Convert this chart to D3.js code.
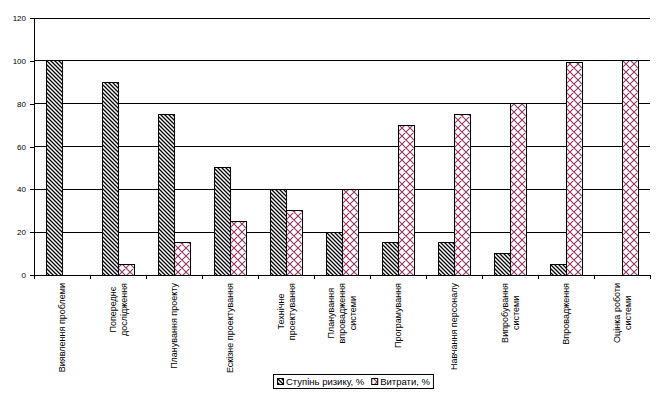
<!DOCTYPE html>
<html>
<head>
<meta charset="utf-8">
<script src="https://cdn.jsdelivr.net/npm/d3@7"></script>
<style>
  body { margin: 0; background: #fff; }
  text { font-family: "Liberation Sans", Arial, sans-serif; }
</style>
</head>
<body>
<div id="chart"></div>
<script>
// stages (multi-line labels split by |)
const stages = [
  "Виявлення проблеми",
  "Попереднє|дослідження",
  "Планування проекту",
  "Ескізне проектування",
  "Технічне|проектування",
  "Планування|впровадження|системи",
  "Програмування",
  "Навчання персоналу",
  "Випробування|системи",
  "Впровадження",
  "Оцінка роботи|системи"
];
const riskValues = [100, 90, 75, 50, 40, 20, 15, 15, 10, 5, 0];
const costValues = [0, 5, 15, 25, 30, 40, 70, 75, 80, 99, 100];
const seriesNames = ["Ступінь ризику, %", "Витрати, %"];
const yTicks = [0, 20, 40, 60, 80, 100, 120];

const width = 661, height = 396;
const margin = {left: 34, right: 11, top: 18, bottom: 121};
const fills = ["url(#stripes)", "url(#cross)"];

let svg = d3.select("#chart")
    .append("svg")
    .attr("width", width)
    .attr("height", height);

// patterns
let defs = svg.append("defs");
let p1 = defs.append("pattern")
    .attr("id", "stripes")
    .attr("patternUnits", "userSpaceOnUse")
    .attr("width", 4).attr("height", 4);
p1.append("rect").attr("width", 4).attr("height", 4).attr("fill", "#fff");
p1.append("path").attr("d", "M-1,-1L5,5M-1,3L1,5M3,-1L5,1")
    .attr("stroke", "#000").attr("stroke-width", 1.3);

let p2 = defs.append("pattern")
    .attr("id", "cross")
    .attr("patternUnits", "userSpaceOnUse")
    .attr("width", 8).attr("height", 8);
p2.append("rect").attr("width", 8).attr("height", 8).attr("fill", "#fff");
p2.append("path").attr("d", "M0,0L8,8M8,0L0,8M-1,7L1,9M7,-1L9,1")
    .attr("stroke", "#993366").attr("stroke-width", 1.1);

let x = d3.scaleBand()
    .domain(stages)
    .range([margin.left, width - margin.right]);

let xInner = d3.scaleBand()
    .domain([0, 1])
    .range([0, x.bandwidth()])
    .paddingOuter(0.75);

let y = d3.scaleLinear()
    .domain([0, 120])
    .range([height - margin.bottom, margin.top]);

// gridlines
svg.append("g")
    .selectAll("line")
    .data(yTicks.filter(d => d > 0))
    .enter()
    .append("line")
    .attr("x1", margin.left)
    .attr("x2", width - margin.right)
    .attr("y1", d => y(d)).attr("y2", d => y(d))
    .attr("stroke", "#000")
    .attr("stroke-width", 1)
    .attr("shape-rendering", "crispEdges");

// y axis
let yAxis = svg.append("g")
    .attr("transform", `translate(${margin.left},0)`)
    .call(d3.axisLeft(y).tickValues(yTicks).tickSizeOuter(0).tickSize(4).tickPadding(4));
yAxis.selectAll("text").style("font-size", "8px").attr("fill", "#000");
yAxis.selectAll("line, path").attr("stroke", "#000").attr("shape-rendering", "crispEdges");

// bars
let groups = svg.append("g")
    .selectAll("g")
    .data(stages)
    .enter()
    .append("g")
    .attr("transform", d => `translate(${x(d)},0)`);

groups.selectAll("rect")
    .data((d, i) => [{v: riskValues[i], s: 0}, {v: costValues[i], s: 1}].filter(b => b.v > 0))
    .enter()
    .append("rect")
    .attr("x", b => xInner(b.s))
    .attr("width", xInner.bandwidth())
    .attr("y", b => y(b.v))
    .attr("height", b => y(0) - y(b.v))
    .attr("fill", b => fills[b.s])
    .attr("stroke", "#000")
    .attr("stroke-width", 1)
    .attr("shape-rendering", "crispEdges");

// x axis
let xAxis = svg.append("g")
    .attr("transform", `translate(0,${y(0)})`)
    .call(d3.axisBottom(x).tickSize(0).tickFormat(""));
xAxis.select("path").attr("stroke", "#000").attr("shape-rendering", "crispEdges");

// category ticks on boundaries
svg.append("g")
    .selectAll("line")
    .data(d3.range(stages.length + 1))
    .enter()
    .append("line")
    .attr("x1", i => margin.left + i * x.step())
    .attr("x2", i => margin.left + i * x.step())
    .attr("y1", y(0)).attr("y2", y(0) + 4)
    .attr("stroke", "#000")
    .attr("shape-rendering", "crispEdges");

// rotated category labels
const lineH = 11;
let labels = svg.append("g")
    .selectAll("g")
    .data(stages)
    .enter()
    .append("g")
    .attr("transform", d => `translate(${x(d) + x.bandwidth() / 2},${y(0) + 8}) rotate(-90)`);

labels.each(function(d) {
    let lines = d.split("|");
    let g = d3.select(this);
    let tmp = g.selectAll("text")
        .data(lines)
        .enter()
        .append("text")
        .style("font-size", "9px")
        .attr("fill", "#000")
        .attr("text-anchor", "middle")
        .attr("dy", "0.35em")
        .text(t => t);
    let maxW = d3.max(tmp.nodes(), n => n.getComputedTextLength());
    tmp.attr("x", -maxW / 2)
        .attr("y", (t, j) => (j - (lines.length - 1) / 2) * lineH);
});

// legend
let legend = svg.append("g").attr("transform", "translate(273,374)");
let legendBox = legend.append("rect")
    .attr("x", 0.5).attr("y", 0.5)
    .attr("height", 14)
    .attr("fill", "#fff")
    .attr("stroke", "#000");

let lx = 4;
seriesNames.forEach(function(name, i) {
    legend.append("rect")
        .attr("x", lx + 0.5).attr("y", 4.5)
        .attr("width", 6).attr("height", 6)
        .attr("fill", fills[i])
        .attr("stroke", "#000");
    let t = legend.append("text")
        .attr("x", lx + 9).attr("y", 11)
        .style("font-size", "9.5px")
        .attr("fill", "#000")
        .text(name);
    lx += 9 + t.node().getComputedTextLength() + 7;
});
legendBox.attr("width", lx - 4);
</script>
</body>
</html>
